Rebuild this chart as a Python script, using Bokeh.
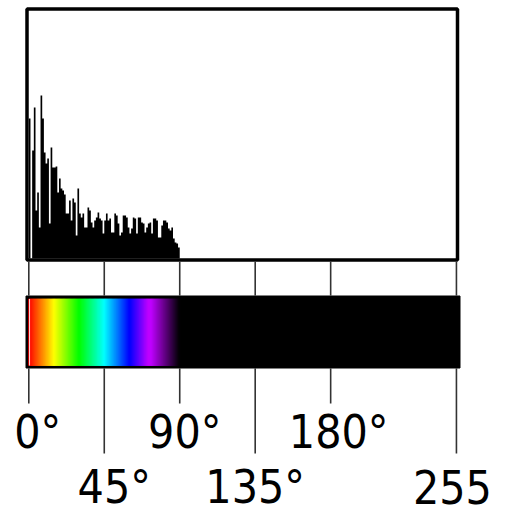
import colorsys
from bokeh.plotting import figure
from bokeh.models import Range1d, ColumnDataSource
from bokeh.core.properties import value
from bokeh.embed import file_html
from bokeh.resources import INLINE

# ---- data ----
hue_bins = list(range(90))
hist_counts = [140, 0, 108, 151, 48, 66, 31, 163, 140, 106,
               95, 100, 35, 111, 91, 91, 92, 66, 80, 70,
               68, 64, 45, 45, 58, 38, 60, 56, 23, 70,
               45, 41, 45, 31, 31, 51, 48, 36, 31, 38,
               41, 46, 40, 38, 25, 38, 45, 38, 40, 26,
               26, 45, 43, 35, 23, 26, 43, 43, 41, 31,
               25, 30, 41, 40, 25, 41, 41, 36, 35, 26,
               31, 35, 36, 25, 40, 40, 38, 21, 21, 33,
               38, 38, 36, 30, 28, 31, 20, 16, 15, 11]
tick_values = [0, 45, 90, 135, 180, 255]
tick_labels = ["0°", "45°", "90°", "135°", "180°", "255"]
tick_row = [1, 2, 1, 2, 1, 2]

# ---- layout constants (pixels) ----
W, H = 510, 513
X0PX, PXU = 28.3, 1.677          # pixel of value 0, pixels per unit
def px2v(px):
    return (px - X0PX) / PXU

label_dx = [9, 10, 5, 0, 8, -4]
FONT = "DejaVu Sans Condensed, Liberation Sans Narrow, sans-serif"

p = figure(width=W, height=H,
           x_range=Range1d(px2v(0), px2v(W)),
           y_range=Range1d(H, 0),
           output_backend="svg", toolbar_location=None,
           x_axis_location=None, y_axis_location=None,
           min_border=0)
p.grid.visible = False
p.outline_line_color = None
p.background_fill_color = "white"
p.border_fill_color = "white"
p.extra_y_ranges = {"hist": Range1d(-(H - 258), 258)}

# histogram as a filled step area (bin edges -> counts)
edges = hue_bins + [hue_bins[-1] + 1]
steps = hist_counts + [hist_counts[-1]]
p.varea_step(x=edges, y1=[0] * len(edges), y2=steps, step_mode="after",
             y_range_name="hist", fill_color="black")

# histogram frame
p.quad(left=px2v(26.5), right=px2v(457), top=8.5, bottom=259.5,
       fill_color=None, line_color="black", line_width=3.5)

# tick lines between the boxes and below the colour bar
p.segment(x0=tick_values, x1=tick_values, y0=[261] * 6, y1=[295] * 6,
          line_color="#333333", line_width=1.6)
p.segment(x0=tick_values, x1=tick_values, y0=[368] * 6,
          y1=[403 if r == 1 else 453 for r in tick_row],
          line_color="#333333", line_width=1.6)

# colour bar background
p.quad(left=px2v(25.5), right=px2v(459.5), top=295.5, bottom=367.5,
       fill_color="black", line_color="black", line_width=1)

# hue gradient
step = 0.5
gl, gr, gc = [], [], []
n = int(90 / step)
for i in range(n):
    v = i * step
    h = min(4.0 * v, 285.0) / 360.0
    val = 1.0 if v < 73 else max(0.0, (90.0 - v) / 17.0)
    r, g, b = colorsys.hsv_to_rgb(h, 1.0, val)
    gl.append(v)
    gr.append(v + step)
    gc.append("#%02x%02x%02x" % (int(r * 255), int(g * 255), int(b * 255)))
p.quad(left=gl, right=gr, top=298.5, bottom=365, fill_color=gc,
       line_color=gc, line_width=1)
p.segment(x0=[0.45], x1=[0.45], y0=[298.5], y1=[365], line_color="#ffd8d8", line_width=1)

# labels
lab = ColumnDataSource(dict(
    x=tick_values, y=[431 if r == 1 else 486 for r in tick_row],
    text=tick_labels, dx=label_dx))
p.text(x="x", y="y", text="text", x_offset="dx", source=lab,
       text_align="center", text_baseline="middle",
       text_font=value(FONT), text_font_size="46px",
       text_color="black")

open("out.html", "w").write(file_html(p, INLINE))
